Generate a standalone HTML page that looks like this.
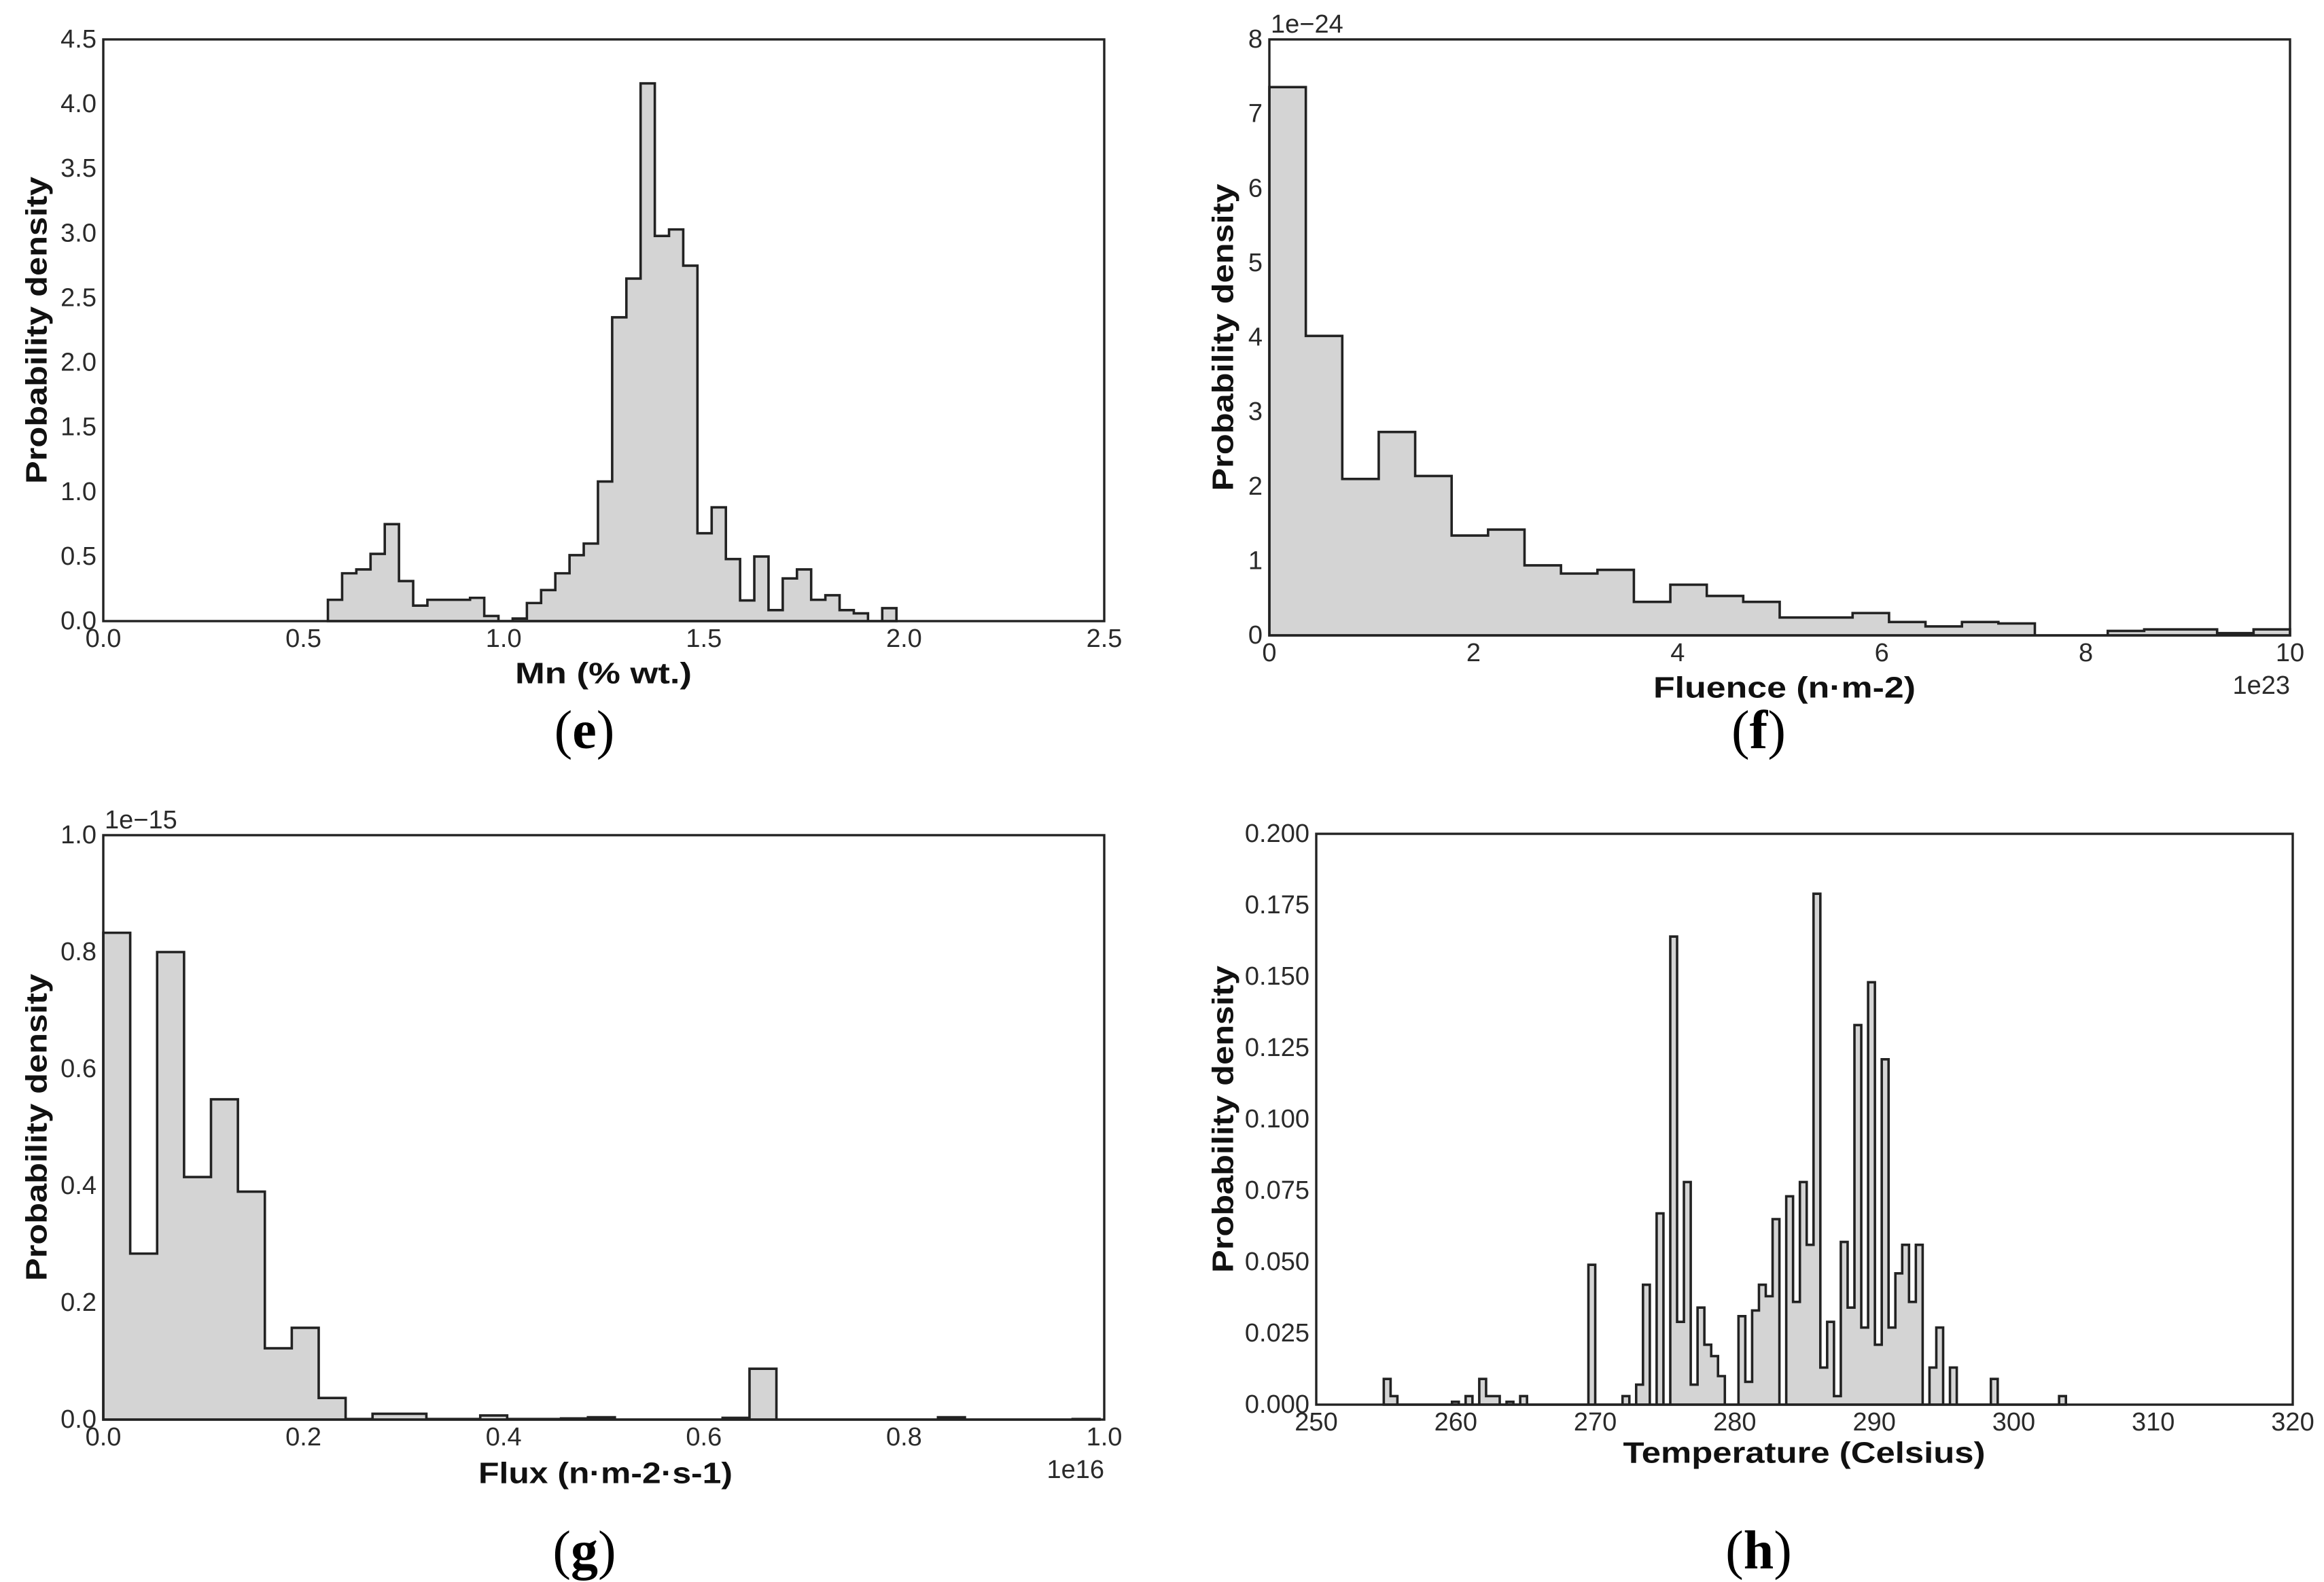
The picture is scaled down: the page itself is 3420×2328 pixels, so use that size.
<!DOCTYPE html>
<html><head><meta charset="utf-8">
<style>
html,body{margin:0;padding:0;background:#fff;}
svg{display:block;}
.tick{font-family:"Liberation Sans",sans-serif;font-size:38px;fill:#2a2a2a;}
.title{font-family:"Liberation Sans",sans-serif;font-size:44px;font-weight:bold;fill:#111;}
.plab{font-family:"Liberation Serif",serif;font-size:80px;fill:#000;}
</style></head>
<body>
<svg id="fig" width="3420" height="2328" viewBox="0 0 3420 2328" xmlns="http://www.w3.org/2000/svg"></svg>
<script>
// Panel (e) Mn
const eStart = 0.561, eWidth = 0.0355;
const eValues = [0.165,0.37,0.40,0.52,0.75,0.31,0.12,0.165,0.165,0.165,0.18,0.04,0,0.02,0.14,0.24,0.37,0.51,0.6,1.08,2.35,2.65,4.16,2.98,3.03,2.75,0.68,0.88,0.48,0.16,0.5,0.085,0.33,0.4,0.165,0.2,0.085,0.06,0,0.1];
const eXTicks = ["0.0","0.5","1.0","1.5","2.0","2.5"];
const eYTicks = ["0.0","0.5","1.0","1.5","2.0","2.5","3.0","3.5","4.0","4.5"];
// Panel (f) Fluence
const fStart = 0, fWidth = 0.35714;
const fValues = [7.36,4.02,2.10,2.73,2.14,1.34,1.42,0.94,0.83,0.88,0.45,0.68,0.53,0.45,0.24,0.24,0.30,0.18,0.12,0.18,0.16,0,0,0.06,0.08,0.08,0.03,0.08];
const fXTicks = ["0","2","4","6","8","10"];
const fYTicks = ["0","1","2","3","4","5","6","7","8"];
// Panel (g) Flux
const gStart = 0, gWidth = 0.0269;
const gValues = [0.833,0.284,0.80,0.415,0.548,0.39,0.122,0.157,0.037,0.001,0.01,0.01,0.001,0.001,0.007,0.001,0.001,0.002,0.004,0,0,0,0,0.003,0.087,0,0,0,0,0,0,0.004,0,0,0,0,0.001];
const gXTicks = ["0.0","0.2","0.4","0.6","0.8","1.0"];
const gYTicks = ["0.0","0.2","0.4","0.6","0.8","1.0"];
// Panel (h) Temperature
const hStart = 254.84, hWidth = 0.489;
const hValues = [0.009,0.003,0,0,0,0,0,0,0,0,0.001,0,0.003,0,0.009,0.003,0.003,0,0.001,0,0.003,0,0,0,0,0,0,0,0,0,0.049,0,0,0,0,0.003,0,0.007,0.042,0,0.067,0,0.164,0.029,0.078,0.007,0.034,0.021,0.017,0.010,0,0,0.031,0.008,0.033,0.042,0.038,0.065,0,0.073,0.036,0.078,0.056,0.179,0.013,0.029,0.003,0.057,0.034,0.133,0.027,0.148,0.021,0.121,0.027,0.046,0.056,0.036,0.056,0,0.013,0.027,0,0.013,0,0,0,0,0,0.009,0,0,0,0,0,0,0,0,0,0.003];
const hXTicks = ["250","260","270","280","290","300","310","320"];
const hYTicks = ["0.000","0.025","0.050","0.075","0.100","0.125","0.150","0.175","0.200"];

const NS = "http://www.w3.org/2000/svg";
const svg = document.getElementById("fig");
function mk(tag, parent){ const el = document.createElementNS(NS, tag); parent.appendChild(el); return el; }

function panel(cfg){
  const g = mk("g", svg);
  
  
  const sx = v => cfg.x0 + (v - cfg.xmin) / (cfg.xmax - cfg.xmin) * (cfg.x1 - cfg.x0);
  const sy = v => cfg.yb - (v - cfg.ymin) / (cfg.ymax - cfg.ymin) * (cfg.yb - cfg.yt);
  let d = "M" + sx(cfg.start) + "," + sy(0);
  cfg.values.forEach((v, i) => {
    const a = cfg.start + i * cfg.width, b = a + cfg.width;
    d += " L" + sx(a) + "," + sy(v) + " L" + sx(b) + "," + sy(v);
  });
  d += " L" + sx(cfg.start + cfg.values.length * cfg.width) + "," + sy(0) + " Z";
  const p = mk("path", g);
  
  
  p.setAttribute("d", d);
  p.setAttribute("fill", "#d4d4d4");
  p.setAttribute("stroke", "#222");
  p.setAttribute("stroke-width", "3.6");
  p.setAttribute("stroke-linejoin", "miter");
  const r = mk("rect", g);
  
  
  r.setAttribute("x", cfg.x0); r.setAttribute("y", cfg.yt);
  r.setAttribute("width", cfg.x1 - cfg.x0); r.setAttribute("height", cfg.yb - cfg.yt);
  r.setAttribute("fill", "none"); r.setAttribute("stroke", "#222"); r.setAttribute("stroke-width", "3.4");
  cfg.xt.forEach((lab, i) => {
    const v = cfg.xmin + i * (cfg.xmax - cfg.xmin) / (cfg.xt.length - 1);
    const t = mk("text", g);
    
    
    t.setAttribute("class", "tick"); t.setAttribute("x", sx(v)); t.setAttribute("y", cfg.yb + 26);
    t.setAttribute("text-anchor", "middle"); t.setAttribute("dominant-baseline", "central");
    t.textContent = lab;
  });
  cfg.yt_.forEach((lab, i) => {
    const v = cfg.ymin + i * (cfg.ymax - cfg.ymin) / (cfg.yt_.length - 1);
    const t = mk("text", g);
    
    
    t.setAttribute("class", "tick"); t.setAttribute("x", cfg.x0 - 10); t.setAttribute("y", sy(v));
    t.setAttribute("text-anchor", "end"); t.setAttribute("dominant-baseline", "central");
    t.textContent = lab;
  });
  const xt = mk("text", g);
  
  
  xt.setAttribute("class", "title"); xt.setAttribute("x", cfg.xtx); xt.setAttribute("y", cfg.xty);
  xt.setAttribute("text-anchor", "middle"); xt.setAttribute("dominant-baseline", "central");
  xt.setAttribute("textLength", cfg.xtl); xt.setAttribute("lengthAdjust", "spacingAndGlyphs");
  xt.textContent = cfg.xtitle;
  const yt = mk("text", g);
  
  
  const cy = (cfg.yt + cfg.yb) / 2;
  yt.setAttribute("class", "title"); yt.setAttribute("x", cfg.ytx); yt.setAttribute("y", cy);
  yt.setAttribute("text-anchor", "middle"); yt.setAttribute("dominant-baseline", "central");
  yt.setAttribute("textLength", "452"); yt.setAttribute("lengthAdjust", "spacingAndGlyphs");
  yt.setAttribute("transform", "rotate(-90 " + cfg.ytx + " " + cy + ")");
  yt.textContent = "Probability density";
  if (cfg.yoff) {
    const o = mk("text", g);
    
    
    o.setAttribute("class", "tick"); o.setAttribute("x", cfg.x0 + 2); o.setAttribute("y", cfg.yt - 22);
    o.setAttribute("dominant-baseline", "central");
    o.textContent = cfg.yoff;
  }
  if (cfg.xoff) {
    const o = mk("text", g);
    
    
    o.setAttribute("class", "tick"); o.setAttribute("x", cfg.x1); o.setAttribute("y", cfg.yb + 74);
    o.setAttribute("text-anchor", "end"); o.setAttribute("dominant-baseline", "central");
    o.textContent = cfg.xoff;
  }
  const pl = mk("text", g);
  
  
  pl.setAttribute("class", "plab"); pl.setAttribute("x", cfg.lx); pl.setAttribute("y", cfg.ly);
  pl.setAttribute("text-anchor", "middle"); pl.setAttribute("dominant-baseline", "central");
  pl.innerHTML = '(<tspan font-weight="bold">' + cfg.letter + '</tspan>)';
}

panel({name:"panel-e-mn", x0:152, x1:1625, yt:58, yb:914, xmin:0, xmax:2.5, ymin:0, ymax:4.5,
  start:eStart, width:eWidth, values:eValues, xt:eXTicks, yt_:eYTicks,
  xtitle:"Mn (% wt.)", xtx:888, xty:991, xtl:260, ytx:54, lx:860, ly:1075, letter:"e"});
panel({name:"panel-f-fluence", x0:1868, x1:3370, yt:58, yb:935, xmin:0, xmax:10, ymin:0, ymax:8,
  start:fStart, width:fWidth, values:fValues, xt:fXTicks, yt_:fYTicks,
  xtitle:"Fluence (n\u00b7m-2)", xtx:2626, xty:1012, xtl:386, ytx:1800, lx:2588, ly:1075, letter:"f",
  yoff:"1e\u221224", xoff:"1e23"});
panel({name:"panel-g-flux", x0:152, x1:1625, yt:1229, yb:2089, xmin:0, xmax:1, ymin:0, ymax:1,
  start:gStart, width:gWidth, values:gValues, xt:gXTicks, yt_:gYTicks,
  xtitle:"Flux (n\u00b7m-2\u00b7s-1)", xtx:891, xty:2168, xtl:374, ytx:54, lx:860, ly:2282, letter:"g",
  yoff:"1e\u221215", xoff:"1e16"});
panel({name:"panel-h-temperature", x0:1937, x1:3374, yt:1227, yb:2067, xmin:250, xmax:320, ymin:0, ymax:0.2,
  start:hStart, width:hWidth, values:hValues, xt:hXTicks, yt_:hYTicks,
  xtitle:"Temperature (Celsius)", xtx:2655, xty:2138, xtl:533, ytx:1800, lx:2588, ly:2282, letter:"h"});
</script>
</body></html>
